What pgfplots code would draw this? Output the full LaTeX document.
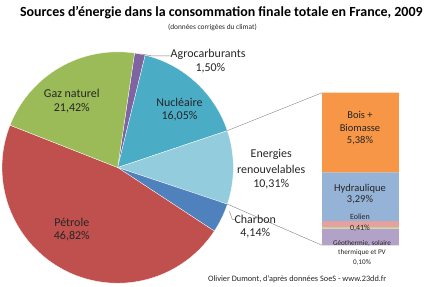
\documentclass[border=0pt]{standalone}
\usepackage{pgfplots}
\pgfplotsset{compat=1.18}
\usepackage{fontspec}
\setmainfont{Carlito}
\definecolor{cGaz}{HTML}{9BBB59}
\definecolor{cPet}{HTML}{C0504D}
\definecolor{cNuc}{HTML}{4BACC6}
\definecolor{cRen}{HTML}{93CDDD}
\definecolor{cCha}{HTML}{4F81BD}
\definecolor{cAgr}{HTML}{8064A2}
\definecolor{cBois}{HTML}{F79646}
\definecolor{cHyd}{HTML}{95B3D7}
\definecolor{cEol}{HTML}{E6A09E}
\definecolor{cGeo}{HTML}{C3D69B}
\definecolor{cAut}{HTML}{B3A2C7}
\definecolor{txt}{HTML}{262626}
% pie: cumulative percentages (start, end)
\newcommand{\slice}[3]{\addplot[fill=#3,draw=white,line width=0.3pt,domain=#1:#2,samples=90,variable=\t]
  ({118+116*cos(81.6-\t*3.5914)},{119+116*sin(81.6-\t*3.5914)}) -- (axis cs:118,119) -- cycle;}
% bar segment: cumulative percentages (bottom, top)
\newcommand{\seg}[3]{\pgfmathsetmacro\ya{41+#1*14.84}\pgfmathsetmacro\yb{41+#2*14.84}%
  \addplot[fill=#3,draw=none] coordinates {(323,\ya) (400,\ya) (400,\yb) (323,\yb) (323,\ya)};}
\begin{document}
\begin{tikzpicture}
\begin{axis}[width=426pt,height=287pt,scale only axis,xmin=0,xmax=426,ymin=0,ymax=287,
  axis line style={draw=none},ticks=none,clip=false]
% main pie (values in %)
\slice{0}{1.50}{cAgr}
\slice{1.50}{17.55}{cNuc}
\slice{17.55}{27.86}{cRen}
\slice{27.86}{32.00}{cCha}
\slice{32.00}{78.82}{cPet}
\slice{78.82}{100.24}{cGaz}
% bar of renewables (values in %)
\seg{0}{1.13}{cAut}
\seg{1.13}{1.23}{cGeo}
\seg{1.23}{1.64}{cEol}
\seg{1.64}{4.93}{cHyd}
\seg{4.93}{10.31}{cBois}
% connectors
\addplot[gray,line width=0.4pt] coordinates {(228,156) (323,194)};
\addplot[gray,line width=0.4pt] coordinates {(228,82.3) (323,41)};
\addplot[gray,line width=0.4pt] coordinates {(141,233) (152,231) (171,231)};
\addplot[gray,line width=0.4pt] coordinates {(230,75) (233,67) (236,67)};
% labels
\node[font=\bfseries\fontsize{14}{15}\selectfont,text=black] at (axis cs:222,274) {Sources d'énergie dans la consommation finale totale en France, 2009};
\node[font=\fontsize{7.4}{8}\selectfont,text=txt] at (axis cs:213,259) {(données corrigées du climat)};
\node[font=\fontsize{12}{13}\selectfont,text=txt,anchor=west,inner xsep=0pt] at (axis cs:171,232) {Agrocarburants};
\node[font=\fontsize{12}{13}\selectfont,text=txt] at (axis cs:211,219) {1,50\%};
\node[font=\fontsize{12}{13}\selectfont,text=txt] at (axis cs:72,193) {Gaz naturel};
\node[font=\fontsize{12}{13}\selectfont,text=txt] at (axis cs:72,179) {21,42\%};
\node[font=\fontsize{12}{13}\selectfont,text=txt] at (axis cs:180,184) {Nucléaire};
\node[font=\fontsize{12}{13}\selectfont,text=txt] at (axis cs:180,170) {16,05\%};
\node[font=\fontsize{12}{13}\selectfont,text=txt] at (axis cs:72,64) {Pétrole};
\node[font=\fontsize{12}{13}\selectfont,text=txt] at (axis cs:72,50) {46,82\%};
\node[font=\fontsize{12}{13}\selectfont,text=txt] at (axis cs:272,132) {Energies};
\node[font=\fontsize{12}{13}\selectfont,text=txt] at (axis cs:272,117) {renouvelables};
\node[font=\fontsize{12}{13}\selectfont,text=txt] at (axis cs:272,102) {10,31\%};
\node[font=\fontsize{12}{13}\selectfont,text=txt] at (axis cs:256,67) {Charbon};
\node[font=\fontsize{12}{13}\selectfont,text=txt] at (axis cs:256,53) {4,14\%};
\node[font=\fontsize{10.5}{11}\selectfont,text=txt] at (axis cs:361,172) {Bois +};
\node[font=\fontsize{10.5}{11}\selectfont,text=txt] at (axis cs:361,159) {Biomasse};
\node[font=\fontsize{10.5}{11}\selectfont,text=txt] at (axis cs:361,146) {5,38\%};
\node[font=\fontsize{10.5}{11}\selectfont,text=txt] at (axis cs:361,98) {Hydraulique};
\node[font=\fontsize{10.5}{11}\selectfont,text=txt] at (axis cs:361,87) {3,29\%};
\node[font=\fontsize{8}{9}\selectfont,text=txt] at (axis cs:361,70) {Eolien};
\node[font=\fontsize{8}{9}\selectfont,text=txt] at (axis cs:361,58) {0,41\%};
\node[font=\fontsize{7.2}{8}\selectfont,text=txt] at (axis cs:363,43) {Géothermie, solaire};
\node[font=\fontsize{7.2}{8}\selectfont,text=txt] at (axis cs:363,34) {thermique et PV};
\node[font=\fontsize{7.2}{8}\selectfont,text=txt] at (axis cs:363,24) {0,10\%};
\node[font=\fontsize{8.3}{9}\selectfont,text=txt] at (axis cs:298,7) {Olivier Dumont, d'après données SoeS - www.23dd.fr};
\end{axis}
\end{tikzpicture}
\end{document}
